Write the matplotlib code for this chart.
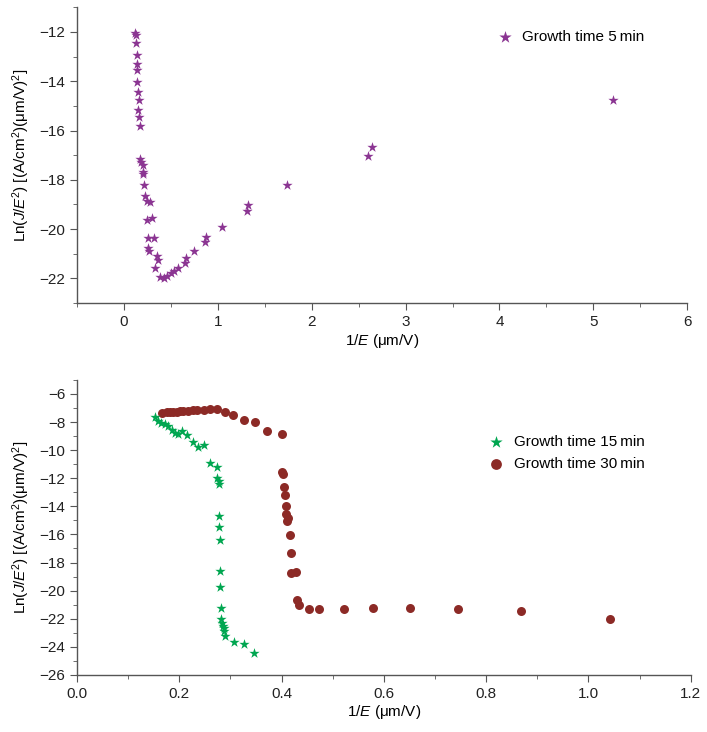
import matplotlib
matplotlib.use("Agg")
import matplotlib.pyplot as plt
from matplotlib.ticker import MultipleLocator

plt.rcParams['font.family'] = ['Liberation Sans', 'DejaVu Sans']
plt.rcParams['mathtext.fontset'] = 'custom'
plt.rcParams['mathtext.rm'] = 'Liberation Sans'
plt.rcParams['mathtext.it'] = 'Liberation Sans:italic'
plt.rcParams['mathtext.default'] = 'regular'

# Growth time 5 min (top panel)
x_5min = [0.117, 0.128, 0.128, 0.136, 0.136, 0.142, 0.142, 0.146, 0.157, 0.153,
          0.163, 0.168, 0.171, 0.185, 0.200, 0.206, 0.206, 0.217, 0.224, 0.242,
          0.277, 0.242, 0.296, 0.259, 0.320, 0.253, 0.264, 0.349, 0.366, 0.331,
          0.384, 0.427, 0.456, 0.498, 0.534, 0.580, 0.651, 0.662, 0.747, 0.868,
          0.875, 1.043, 1.310, 1.320, 1.736, 2.600, 2.640, 5.210]
y_5min = [-12.05, -12.12, -12.43, -12.93, -13.29, -13.54, -14.03, -14.44, -14.75, -15.15,
          -15.45, -15.83, -17.14, -17.28, -17.41, -17.68, -17.78, -18.21, -18.65, -18.86,
          -18.90, -19.64, -19.54, -20.36, -20.36, -20.78, -20.90, -21.08, -21.24, -21.59,
          -21.95, -21.99, -21.89, -21.78, -21.71, -21.58, -21.37, -21.18, -20.88, -20.51,
          -20.34, -19.93, -19.28, -19.03, -18.21, -17.05, -16.65, -14.75]

# Growth time 15 min (bottom panel)
x_15min = [0.152, 0.159, 0.165, 0.172, 0.178, 0.185, 0.191, 0.198, 0.206, 0.214,
           0.226, 0.237, 0.248, 0.260, 0.274, 0.274, 0.277, 0.277, 0.278, 0.278,
           0.279, 0.279, 0.280, 0.282, 0.282, 0.284, 0.286, 0.287, 0.288, 0.289,
           0.306, 0.326, 0.346]
y_15min = [-7.66, -7.90, -8.09, -8.13, -8.25, -8.56, -8.80, -8.84, -8.66, -8.89,
           -9.44, -9.79, -9.60, -10.93, -11.21, -11.97, -12.20, -12.39, -14.71, -15.47,
           -16.42, -18.62, -19.74, -21.27, -22.05, -22.33, -22.53, -22.69, -22.88, -23.24,
           -23.64, -23.81, -24.47]

# Growth time 30 min (bottom panel)
x_30min = [0.167, 0.175, 0.182, 0.188, 0.195, 0.201, 0.208, 0.217, 0.226, 0.235,
           0.248, 0.260, 0.274, 0.289, 0.305, 0.326, 0.347, 0.372, 0.400, 0.400,
           0.403, 0.404, 0.407, 0.409, 0.409, 0.413, 0.411, 0.417, 0.419, 0.419,
           0.429, 0.430, 0.434, 0.453, 0.473, 0.521, 0.579, 0.651, 0.744, 0.869,
           1.042]
y_30min = [-7.35, -7.31, -7.28, -7.28, -7.26, -7.24, -7.21, -7.19, -7.16, -7.12,
           -7.14, -7.07, -7.07, -7.28, -7.52, -7.85, -7.97, -8.63, -8.84, -11.54,
           -11.71, -12.63, -13.17, -13.95, -14.52, -14.86, -15.07, -16.04, -17.29, -18.73,
           -18.64, -20.68, -20.99, -21.32, -21.34, -21.32, -21.27, -21.25, -21.34, -21.46,
           -22.05]

purple = '#8b3592'
green = '#00a650'
darkred = '#8c2a26'
spine_col = '#555555'
fs = 11

ylabel = r'Ln($\it{J}$/$\it{E}$$^2$) [(A/cm$^2$)($\mu$m/V)$^2$]'
xlabel = r'1/$\it{E}$ ($\mu$m/V)'

fig = plt.figure(figsize=(7.07, 7.32), dpi=100)
ax1 = fig.add_axes([0.109, 0.586, 0.863, 0.404])
ax2 = fig.add_axes([0.109, 0.078, 0.868, 0.403])


def style_axes(ax):
    for s in ['top', 'right']:
        ax.spines[s].set_visible(False)
    for s in ['left', 'bottom']:
        ax.spines[s].set_color(spine_col)
        ax.spines[s].set_linewidth(1.0)
    ax.tick_params(which='both', direction='out', color=spine_col, labelsize=fs,
                   labelcolor='#222222')
    ax.tick_params(which='major', length=5)
    ax.tick_params(which='minor', length=3)
    # unicode minus in tick labels
    ax.yaxis.set_major_formatter(plt.FuncFormatter(
        lambda v, p: f'\u2212{abs(int(round(v)))}' if v < 0 else f'{int(round(v))}'))


ax1.scatter(x_5min, y_5min, marker='*', s=60, color=purple, linewidths=0,
            label='Growth time 5\u2009min')
ax1.set_xlim(-0.5, 6)
ax1.set_ylim(-23, -11)
ax1.xaxis.set_major_locator(MultipleLocator(1))
ax1.xaxis.set_minor_locator(MultipleLocator(0.5))
ax1.yaxis.set_major_locator(MultipleLocator(2))
ax1.yaxis.set_minor_locator(MultipleLocator(1))
ax1.set_xlabel(xlabel, fontsize=fs, labelpad=2)
ax1.set_ylabel(ylabel, fontsize=fs, labelpad=5)
style_axes(ax1)
ax1.legend(loc='upper left', bbox_to_anchor=(0.679, 0.945), borderaxespad=0,
           frameon=False, fontsize=fs, handlelength=1.0, handletextpad=0.6,
           scatterpoints=1, markerscale=1.2)

ax2.scatter(x_15min, y_15min, marker='*', s=60, color=green, linewidths=0,
            label='Growth time 15\u2009min', zorder=3)
ax2.scatter(x_30min, y_30min, marker='o', s=42, color=darkred, linewidths=0,
            label='Growth time 30\u2009min', zorder=2)
ax2.set_xlim(0, 1.2)
ax2.set_ylim(-26, -5)
ax2.xaxis.set_major_locator(MultipleLocator(0.2))
ax2.xaxis.set_minor_locator(MultipleLocator(0.1))
ax2.yaxis.set_major_locator(MultipleLocator(2))
ax2.yaxis.set_minor_locator(MultipleLocator(1))
ax2.set_xlabel(xlabel, fontsize=fs, labelpad=2)
ax2.set_ylabel(ylabel, fontsize=fs, labelpad=5)
style_axes(ax2)
ax2.xaxis.set_major_formatter(plt.FormatStrFormatter('%.1f'))
ax2.legend(loc='upper left', bbox_to_anchor=(0.66, 0.834), borderaxespad=0,
           frameon=False, fontsize=fs, handlelength=1.0, handletextpad=0.7,
           scatterpoints=1, labelspacing=0.55, markerscale=1.2)

fig.savefig('out.png', dpi=100)
